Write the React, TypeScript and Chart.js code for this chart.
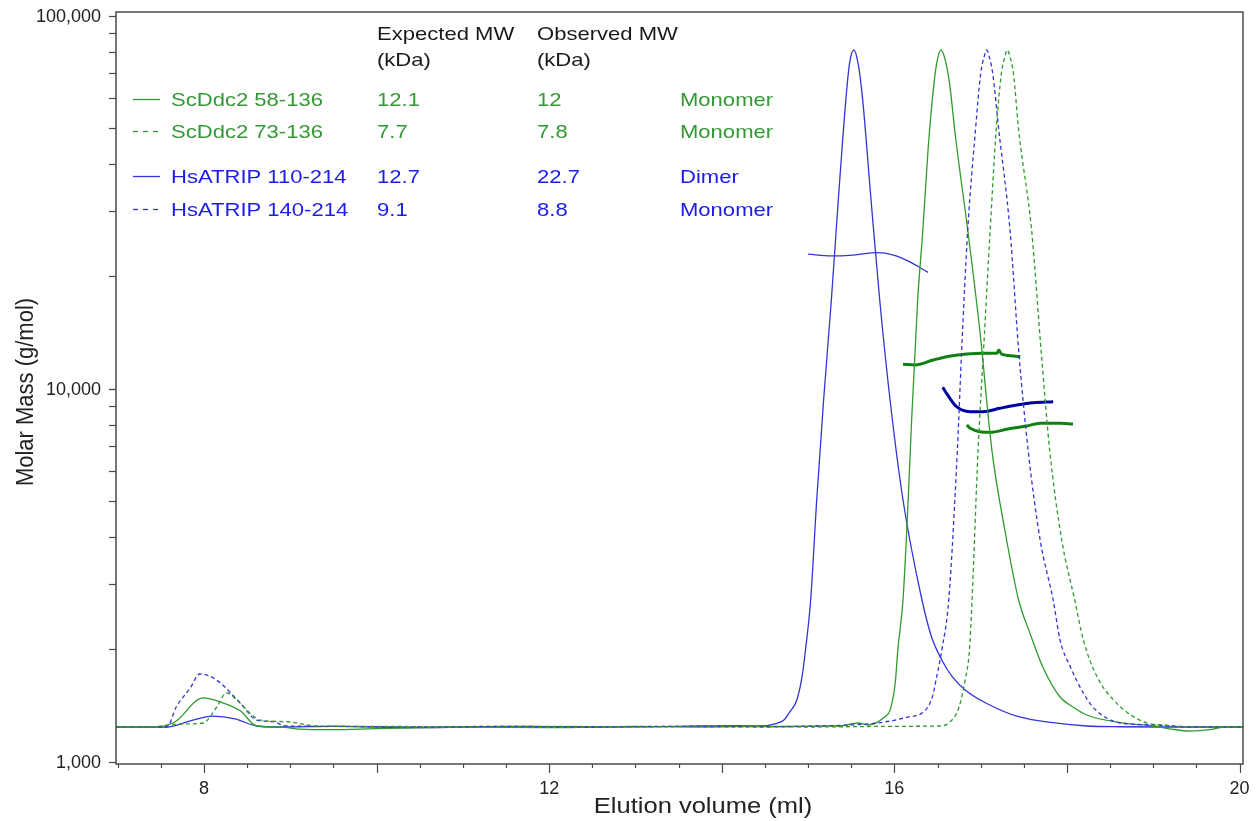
import React, { useEffect, useRef } from "react";
import { Chart, registerables } from "chart.js";
Chart.register(...registerables);

// ---- Detector traces (normalised signal) ----
const hsatrip110Vol = [6.98, 7.57, 7.84, 8.10, 8.36, 8.61, 8.88, 9.5, 10.5, 11.5, 12.5, 13.5, 14.2, 14.44, 14.64, 14.72, 14.79, 14.87, 14.93, 14.97, 15.03, 15.10, 15.18, 15.27, 15.35, 15.44, 15.48, 15.53, 15.58, 15.63, 15.73, 15.83, 15.95, 16.10, 16.32, 16.43, 16.55, 16.67, 16.82, 17.06, 17.44, 17.84, 18.23, 18.62, 19.3, 20.04];
const hsatrip110Sig = [0, 0, 0.009, 0.016, 0.012, 0.0015, 0, 0.001, -0.001, 0.001, 0, 0.001, 0.002, 0.0015, 0.0055, 0.0103, 0.0226, 0.0399, 0.0743, 0.1137, 0.1876, 0.3353, 0.483, 0.631, 0.778, 0.93, 0.98, 1.0, 0.98, 0.93, 0.778, 0.631, 0.483, 0.3353, 0.1876, 0.1334, 0.099, 0.0743, 0.0547, 0.0355, 0.0152, 0.0064, 0.0015, 0.0004, 0, 0];

const scddc58Vol = [6.98, 7.41, 7.66, 7.99, 8.19, 8.42, 8.61, 8.88, 9.11, 9.46, 9.81, 10.27, 11.0, 12.0, 13.0, 13.75, 14.5, 15.37, 15.58, 15.69, 15.89, 15.95, 16.01, 16.04, 16.10, 16.16, 16.20, 16.27, 16.33, 16.39, 16.45, 16.49, 16.54, 16.59, 16.64, 16.71, 16.85, 16.99, 17.13, 17.28, 17.44, 17.57, 17.72, 17.92, 18.07, 18.23, 18.62, 19.01, 19.21, 19.43, 19.66, 19.83, 20.04];
const scddc58Sig = [0, 0, 0.0074, 0.043, 0.037, 0.024, 0.0015, 0, -0.003, -0.004, -0.003, -0.0015, 0, -0.001, 0.001, 0, 0.001, 0.0015, 0.0059, 0.003, 0.0152, 0.025, 0.065, 0.1137, 0.1876, 0.3353, 0.4535, 0.631, 0.734, 0.852, 0.94, 0.98, 1.0, 0.985, 0.95, 0.87, 0.734, 0.586, 0.409, 0.291, 0.1876, 0.139, 0.0886, 0.0443, 0.0295, 0.0177, 0.0064, 0.0015, -0.003, -0.006, -0.004, 0, 0];

const hsatrip140Vol = [6.98, 7.57, 7.68, 7.84, 7.95, 8.07, 8.19, 8.42, 8.61, 8.80, 8.95, 9.5, 10.5, 11.5, 12.5, 13.5, 14.5, 15.10, 15.50, 15.89, 16.16, 16.32, 16.44, 16.49, 16.55, 16.63, 16.73, 16.78, 16.85, 16.94, 17.00, 17.04, 17.07, 17.10, 17.14, 17.21, 17.34, 17.44, 17.55, 17.69, 17.84, 17.92, 18.04, 18.19, 18.30, 18.46, 18.62, 19.01, 19.43, 20.04];
const hsatrip140Sig = [0, 0, 0.03, 0.0576, 0.0783, 0.075, 0.065, 0.0355, 0.0103, 0.0078, 0.0015, 0.001, 0, 0.001, 0, 0.001, 0, 0.0015, 0.003, 0.0074, 0.0148, 0.0207, 0.0443, 0.0739, 0.1137, 0.1876, 0.409, 0.557, 0.734, 0.882, 0.965, 0.99, 1.0, 0.99, 0.965, 0.882, 0.734, 0.557, 0.409, 0.276, 0.1876, 0.1285, 0.0886, 0.0502, 0.0295, 0.0133, 0.0059, 0.003, 0, 0];

const scddc73Vol = [6.98, 7.37, 7.72, 7.99, 8.15, 8.26, 8.38, 8.53, 8.65, 8.96, 9.31, 10.0, 11.0, 12.0, 13.0, 14.0, 15.0, 16.0, 16.51, 16.63, 16.75, 16.82, 16.87, 16.90, 16.97, 17.04, 17.11, 17.18, 17.24, 17.28, 17.31, 17.34, 17.38, 17.44, 17.59, 17.70, 17.80, 17.94, 18.09, 18.19, 18.35, 18.54, 18.74, 18.93, 19.13, 19.54, 20.04];
const scddc73Sig = [0, 0, 0.0044, 0.0059, 0.030, 0.0502, 0.0399, 0.0207, 0.0103, 0.0078, 0.0015, 0.001, 0, 0.001, 0, 0.001, 0, 0.001, 0.0015, 0.0059, 0.0295, 0.0694, 0.1137, 0.1876, 0.409, 0.572, 0.734, 0.882, 0.965, 0.99, 1.0, 0.99, 0.965, 0.882, 0.734, 0.557, 0.409, 0.276, 0.1876, 0.1285, 0.0739, 0.0399, 0.0177, 0.0059, 0.003, 0, 0];

// ---- Molar mass traces (g/mol) ----
const hsatrip110MwVol = [15.00, 15.27, 15.52, 15.80, 15.99, 16.18, 16.39];
const hsatrip110Mw = [22960, 22700, 22820, 23160, 22820, 21880, 20510];
const scddc58MwVol = [16.10, 16.24, 16.45, 16.65, 16.84, 17.03, 17.19, 17.21, 17.24, 17.38, 17.46];
const scddc58Mw = [11630, 11580, 11940, 12240, 12390, 12450, 12450, 12700, 12390, 12240, 12170];
const hsatrip140MwVol = [16.56, 16.63, 16.72, 16.88, 17.03, 17.22, 17.42, 17.61, 17.84];
const hsatrip140Mw = [10090, 9520, 8950, 8680, 8680, 8860, 9040, 9170, 9230];
const scddc73MwVol = [16.84, 16.86, 16.88, 16.99, 17.11, 17.30, 17.53, 17.69, 17.92, 18.07];
const scddc73Mw = [8000, 7900, 7830, 7667, 7639, 7782, 7943, 8077, 8077, 8043];

// ---- Legend table ----
const sampleNames = ["ScDdc2 58-136", "ScDdc2 73-136", "HsATRIP 110-214", "HsATRIP 140-214"];
const expectedMW = ["12.1", "7.7", "12.7", "9.1"];
const observedMW = ["12", "7.8", "22.7", "8.8"];
const oligomerState = ["Monomer", "Monomer", "Dimer", "Monomer"];
const headerExpected = ["Expected MW", "(kDa)"];
const headerObserved = ["Observed MW", "(kDa)"];

// ---- Axis ticks ----
const xTickLabels = [8, 12, 16, 20];
const yTickLabels = [1000, 10000, 100000];
const xAxisTitle = "Elution volume (ml)";
const yAxisTitle = "Molar Mass (g/mol)";

const GREEN = "#2f9a2f";
const BLUE = "#3434d4";
const GREEN_TXT = "#339933";
const BLUE_TXT = "#1c1ceb";
const GREEN_MW = "#118011";
const NAVY_MW = "#0000a0";
const FONT = '"Liberation Sans", Arial, sans-serif';
const SX = 1.16;

const rowColors = [GREEN_TXT, GREEN_TXT, BLUE_TXT, BLUE_TXT];
const rowLine = [GREEN, GREEN, BLUE, BLUE];
const rowDash = [false, true, false, true];

function zip(xs: number[], ys: number[]) {
  return xs.map((x, i) => ({ x, y: ys[i] }));
}

function sText(ctx: CanvasRenderingContext2D, t: string, x: number, y: number, align: CanvasTextAlign, sx = SX) {
  ctx.save();
  ctx.translate(x, y);
  ctx.scale(sx, 1);
  ctx.textAlign = align;
  ctx.fillText(t, 0, 0);
  ctx.restore();
}

const axesPlugin = {
  id: "customAxes",
  afterDraw(chart: any) {
    const ctx: CanvasRenderingContext2D = chart.ctx;
    const ca = chart.chartArea;
    const xs = chart.scales.x;
    const ys = chart.scales.y;
    ctx.save();
    // box
    ctx.strokeStyle = "#4a4a4a";
    ctx.lineWidth = 1.5;
    ctx.strokeRect(ca.left, ca.top, ca.right - ca.left, ca.bottom - ca.top);
    // x ticks
    ctx.lineWidth = 1.2;
    for (let v = 7; v <= 20.001; v += 0.5) {
      const px = Math.round(xs.getPixelForValue(v)) + 0.5;
      const major = Math.abs(v / 2 - Math.round(v / 2)) < 1e-6;
      ctx.beginPath();
      ctx.moveTo(px, ca.bottom);
      ctx.lineTo(px, ca.bottom + (major ? 9 : 4));
      ctx.stroke();
    }
    // y ticks
    for (let d = 1000; d < 100000; d *= 10) {
      for (let m = 1; m <= 10; m++) {
        const v = d * m;
        const py = Math.round(ys.getPixelForValue(v)) + 0.5;
        ctx.beginPath();
        ctx.moveTo(ca.left - 7, py);
        ctx.lineTo(ca.left, py);
        ctx.stroke();
      }
    }
    // tick labels
    ctx.fillStyle = "#222";
    ctx.font = `18px ${FONT}`;
    ctx.textBaseline = "alphabetic";
    xTickLabels.forEach((v) => {
      sText(ctx, String(v), xs.getPixelForValue(v), ca.bottom + 30, "center", 1.0);
    });
    yTickLabels.forEach((v) => {
      sText(ctx, v.toLocaleString("en-US"), ca.left - 15, ys.getPixelForValue(v) + 6.5, "right", 1.0);
    });
    // axis titles
    ctx.font = `22px ${FONT}`;
    sText(ctx, xAxisTitle, 703, ca.bottom + 49, "center");
    ctx.save();
    ctx.translate(33, 392);
    ctx.scale(1.1, 1);
    ctx.rotate(-Math.PI / 2);
    ctx.textAlign = "center";
    ctx.fillText(yAxisTitle, 0, 0);
    ctx.restore();

    // legend table
    const L = ca.left;
    const T = ca.top;
    ctx.font = `19px ${FONT}`;
    const off = 7;
    ctx.fillStyle = "#1a1a1a";
    headerExpected.forEach((t, i) => sText(ctx, t, L + 261, T + 21 + i * 26 + off, "left"));
    headerObserved.forEach((t, i) => sText(ctx, t, L + 421, T + 21 + i * 26 + off, "left"));
    const rowY = [87, 119, 164, 197];
    sampleNames.forEach((name, i) => {
      const y = T + rowY[i];
      ctx.strokeStyle = rowLine[i];
      ctx.lineWidth = 1.3;
      ctx.setLineDash(rowDash[i] ? [5, 5] : []);
      ctx.beginPath();
      ctx.moveTo(L + 17, y + 0.5);
      ctx.lineTo(L + 44, y + 0.5);
      ctx.stroke();
      ctx.setLineDash([]);
      ctx.fillStyle = rowColors[i];
      sText(ctx, name, L + 55, y + off, "left");
      sText(ctx, expectedMW[i], L + 261, y + off, "left");
      sText(ctx, observedMW[i], L + 421, y + off, "left");
      sText(ctx, oligomerState[i], L + 564, y + off, "left");
    });
    ctx.restore();
  },
};

export default function App() {
  const ref = useRef<HTMLCanvasElement | null>(null);
  useEffect(() => {
    if (!ref.current) return;
    const trace = (label: string, xs: number[], ys: number[], color: string, dashed: boolean) => ({
      label,
      data: zip(xs, ys),
      yAxisID: "y2",
      borderColor: color,
      borderWidth: 1.3,
      borderDash: dashed ? [4, 3] : [],
      pointRadius: 0,
      cubicInterpolationMode: "monotone" as const,
      fill: false,
    });
    const mw = (label: string, xs: number[], ys: number[], color: string, width: number) => ({
      label,
      data: zip(xs, ys),
      yAxisID: "y",
      borderColor: color,
      borderWidth: width,
      pointRadius: 0,
      cubicInterpolationMode: "monotone" as const,
      fill: false,
    });
    const chart = new Chart(ref.current, {
      type: "line",
      data: {
        datasets: [
          trace("ScDdc2 73-136", scddc73Vol, scddc73Sig, GREEN, true),
          trace("HsATRIP 140-214", hsatrip140Vol, hsatrip140Sig, BLUE, true),
          trace("ScDdc2 58-136", scddc58Vol, scddc58Sig, GREEN, false),
          trace("HsATRIP 110-214", hsatrip110Vol, hsatrip110Sig, BLUE, false),
          mw("HsATRIP 110-214 MW", hsatrip110MwVol, hsatrip110Mw, BLUE, 1.3),
          mw("ScDdc2 58-136 MW", scddc58MwVol, scddc58Mw, GREEN_MW, 3),
          mw("HsATRIP 140-214 MW", hsatrip140MwVol, hsatrip140Mw, NAVY_MW, 3),
          mw("ScDdc2 73-136 MW", scddc73MwVol, scddc73Mw, GREEN_MW, 3),
        ],
      },
      options: {
        animation: false,
        responsive: false,
        devicePixelRatio: 1,
        layout: { padding: { left: 116, top: 12, right: 13, bottom: 57 } },
        plugins: { legend: { display: false }, tooltip: { enabled: false } },
        scales: {
          x: { type: "linear", min: 6.98, max: 20.04, display: false },
          y: { type: "logarithmic", min: 986, max: 102300, display: false },
          y2: { type: "linear", min: -0.05465, max: 1.05613, display: false },
        },
      },
      plugins: [axesPlugin],
    });
    return () => chart.destroy();
  }, []);
  return (
    <div style={{ position: "absolute", left: 0, top: 0, width: 1256, height: 821, background: "#fff" }}>
      <canvas ref={ref} width={1256} height={821} />
    </div>
  );
}
